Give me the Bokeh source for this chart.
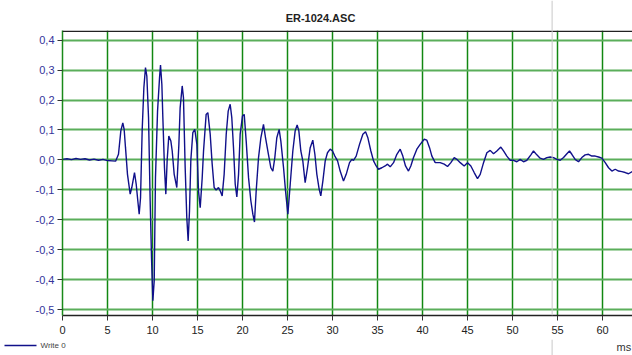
from bokeh.plotting import figure
from bokeh.layouts import column
from bokeh.models import (Range1d, FixedTicker, CustomJSTickFormatter, Span, Label)
from bokeh.embed import file_html
from bokeh.resources import INLINE

title_text = "ER-1024.ASC"
series_name = "Write 0"
x_unit = "ms"

time_s = [0.0, 0.5, 1.0, 1.5, 2.0, 2.5, 3.0, 3.5, 4.0, 4.5, 5.0, 5.5, 5.9,
          6.22, 6.48, 6.70, 6.85, 7.0, 7.22, 7.52, 7.70, 8.0, 8.19, 8.37, 8.52, 8.67,
          8.85, 9.04, 9.22, 9.37, 9.56, 9.74, 9.89, 10.04, 10.19, 10.33, 10.56, 10.78,
          10.89, 11.04, 11.15, 11.33, 11.48, 11.63, 11.81, 12.04, 12.19, 12.41, 12.70,
          12.93, 13.07, 13.30, 13.44, 13.63, 13.81, 13.96, 14.11, 14.26, 14.48, 14.70,
          14.93, 15.11, 15.30, 15.52, 15.67, 15.96, 16.15, 16.41, 16.63, 16.85, 17.07,
          17.33, 17.52, 17.74, 17.96, 18.19, 18.41, 18.63, 18.81, 19.0, 19.19, 19.37,
          19.56, 19.74, 20.0, 20.19, 20.41, 20.67, 20.93, 21.15, 21.33, 21.52, 21.78,
          22.04, 22.33, 22.56, 22.85, 23.15, 23.37, 23.59, 23.81, 24.07, 24.26, 24.56,
          24.78, 25.04, 25.30, 25.59, 25.85, 26.07, 26.26, 26.48, 26.70, 26.96, 27.22,
          27.52, 27.81, 28.04, 28.26, 28.52, 28.70, 28.93, 29.19, 29.44, 29.74, 30.0,
          30.26, 30.56, 30.85, 31.22, 31.52, 31.89, 32.15, 32.33, 32.63, 33.0, 33.37,
          33.67, 33.93, 34.26, 34.56, 34.85, 35.11, 35.48, 35.85, 36.11, 36.41, 36.78,
          37.15, 37.52, 37.81, 38.11, 38.44, 38.70, 39.0, 39.37, 39.74, 40.19, 40.48,
          40.78, 41.04, 41.41, 41.96, 42.41, 42.78, 43.15, 43.52, 43.81, 44.19, 44.63,
          45.0, 45.37, 45.74, 46.11, 46.41, 46.78, 47.15, 47.52, 47.89, 48.26, 48.70,
          49.0, 49.37, 49.74, 50.11, 50.48, 50.85, 51.22, 51.59, 52.04, 52.33, 52.70,
          53.07, 53.44, 53.81, 54.19, 54.56, 54.93, 55.30, 55.67, 56.04, 56.33, 56.59,
          56.96, 57.33, 57.70, 58.07, 58.44, 58.81, 59.19, 59.56, 59.93, 60.30, 60.67,
          61.04, 61.41, 61.78, 62.15, 62.52, 62.89, 63.30]

amplitude = [0.002, 0.004, 0.001, 0.005, 0.002, 0.004, 0.000, 0.003, -0.001, 0.002, -0.002, -0.003, -0.004,
             0.019, 0.097, 0.124, 0.102, 0.041, -0.048, -0.114, -0.092, -0.042, -0.081, -0.137, -0.181, -0.126,
             0.097, 0.241, 0.308, 0.280, 0.141, -0.137, -0.326, -0.470, -0.403, -0.059, 0.163, 0.274,
             0.317, 0.252, 0.141, -0.026, -0.114, 0.000, 0.080, 0.063, 0.030, -0.048, -0.092,
             0.052, 0.174, 0.247, 0.208, -0.026, -0.192, -0.270, -0.170, 0.000, 0.091, 0.102,
             0.052, -0.103, -0.159, -0.060, 0.030, 0.152, 0.158, 0.086, -0.014, -0.092, -0.100,
             -0.092, -0.103, -0.120, -0.048, 0.086, 0.163, 0.186, 0.141, 0.041, -0.081, -0.123,
             -0.048, 0.086, 0.147, 0.152, 0.063, -0.059, -0.137, -0.181, -0.207, -0.103, 0.008,
             0.074, 0.119, 0.074, 0.024, -0.026, -0.037, 0.008, 0.074, 0.102, 0.063, -0.026,
             -0.103, -0.181, -0.081, 0.030, 0.097, 0.117, 0.097, 0.030, -0.003, -0.076, -0.026,
             0.041, 0.066, 0.019, -0.048, -0.098, -0.120, -0.070, -0.003, 0.024, 0.036, 0.030,
             0.013, -0.003, -0.037, -0.070, -0.048, -0.009, 0.002, -0.001, 0.013, 0.052, 0.086,
             0.094, 0.074, 0.030, -0.003, -0.020, -0.031, -0.026, -0.020, -0.014, -0.023, -0.009,
             0.019, 0.036, 0.013, -0.020, -0.037, -0.020, 0.008, 0.036, 0.052, 0.069, 0.066,
             0.041, 0.013, -0.009, -0.009, -0.014, -0.022, -0.009, 0.008, 0.002, -0.009, -0.020,
             -0.009, -0.020, -0.042, -0.062, -0.048, -0.009, 0.024, 0.032, 0.021, 0.030, 0.043,
             0.030, 0.013, -0.001, -0.001, -0.006, 0.002, -0.006, -0.001, 0.017, 0.030, 0.017,
             0.006, 0.002, 0.008, 0.010, 0.008, 0.002, -0.001, 0.008, 0.021, 0.030, 0.019,
             0.002, -0.006, 0.008, 0.017, 0.019, 0.013, 0.013, 0.010, 0.006, -0.009, -0.026,
             -0.037, -0.031, -0.037, -0.039, -0.042, -0.046, -0.039]

x_ticks = [0, 5, 10, 15, 20, 25, 30, 35, 40, 45, 50, 55, 60]
y_ticks = [-0.5, -0.4, -0.3, -0.2, -0.1, 0.0, 0.1, 0.2, 0.3, 0.4]
cursor_x = 54.4

FONT = "Liberation Sans"
W = 632
LINE_COLOR = "#10108a"
CURSOR_COLOR = "#c8c8c8"


def no_align(f):
    try:
        f.frame_align = False
    except AttributeError:
        pass
    return f


def strip(height):
    f = figure(width=W, height=height, output_backend="svg", toolbar_location=None,
               x_range=Range1d(0, W), y_range=Range1d(0, height),
               x_axis_type=None, y_axis_type=None, min_border=0,
               min_border_left=0, min_border_right=0, min_border_top=0,
               min_border_bottom=0, outline_line_color=None,
               background_fill_color="white", border_fill_color="white")
    f.xgrid.visible = False
    f.ygrid.visible = False
    return no_align(f)


# ---------- main plot ----------
p = figure(width=W, height=309, output_backend="svg", toolbar_location=None,
           x_range=Range1d(0, 63.33), y_range=Range1d(-0.519, 0.432),
           min_border_left=62, min_border_right=0, min_border_top=0,
           min_border_bottom=24, background_fill_color="white",
           border_fill_color="white", outline_line_color=None)
no_align(p)

line = p.line(time_s, amplitude, color=LINE_COLOR, line_width=1.4)

p.xaxis.ticker = FixedTicker(ticks=x_ticks)
p.yaxis.ticker = FixedTicker(ticks=y_ticks)
p.yaxis.formatter = CustomJSTickFormatter(
    code="var v = Math.abs(tick) < 1e-9 ? 0 : tick; return v.toFixed(1).replace('.', ',');")
for ax in (p.xaxis, p.yaxis):
    ax.minor_tick_line_color = None
    ax.major_tick_in = 0
    ax.major_tick_out = 5
    ax.major_tick_line_color = "#333333"
    ax.major_label_text_font = FONT
    ax.major_label_text_font_size = "11px"
p.xaxis.major_label_standoff = 5
p.yaxis.major_label_standoff = 3
p.xaxis.axis_line_color = "#222222"
p.xaxis.axis_line_width = 1.5
p.yaxis.axis_line_color = "#1a8a1a"
p.yaxis.axis_line_width = 1.5
p.xaxis.major_label_text_color = "#222222"
p.yaxis.major_label_text_color = "#34349a"

p.xgrid.ticker = FixedTicker(ticks=x_ticks)
p.ygrid.ticker = FixedTicker(ticks=y_ticks)
p.xgrid.grid_line_color = "#128812"
p.xgrid.grid_line_width = 1.5
p.ygrid.grid_line_color = "#5aae5a"
p.ygrid.grid_line_width = 2

p.add_layout(Span(location=0.4295, dimension="width", line_color="#222222", line_width=1.5))
p.add_layout(Span(location=cursor_x, dimension="height", line_color=CURSOR_COLOR, line_width=1))

cursor_px = 62.0 + cursor_x * 9.0

# ---------- title strip ----------
top = strip(30)
top.add_layout(Span(location=cursor_px, dimension="height",
                    line_color=CURSOR_COLOR, line_width=1))
top.add_layout(Label(x=320, y=13, text=title_text, text_align="center",
                     text_baseline="middle", text_font=FONT, text_font_size="11px",
                     text_font_style="bold", text_color="#222222"))

# ---------- legend / unit strip ----------
bot = strip(16)
bot.add_layout(Span(location=cursor_px, dimension="height",
                    line_color=CURSOR_COLOR, line_width=1))
bot.line([4, 36], [10, 10], color=LINE_COLOR, line_width=1.4)
bot.add_layout(Label(x=40, y=10, text=series_name, text_baseline="middle",
                     text_font=FONT, text_font_size="8px", text_color="#444444"))
bot.add_layout(Label(x=616, y=9, text=x_unit, text_baseline="middle",
                     text_font=FONT, text_font_size="11px", text_color="#333333"))

layout = column(top, p, bot, spacing=0)
open("out.html", "w").write(file_html(layout, INLINE))
